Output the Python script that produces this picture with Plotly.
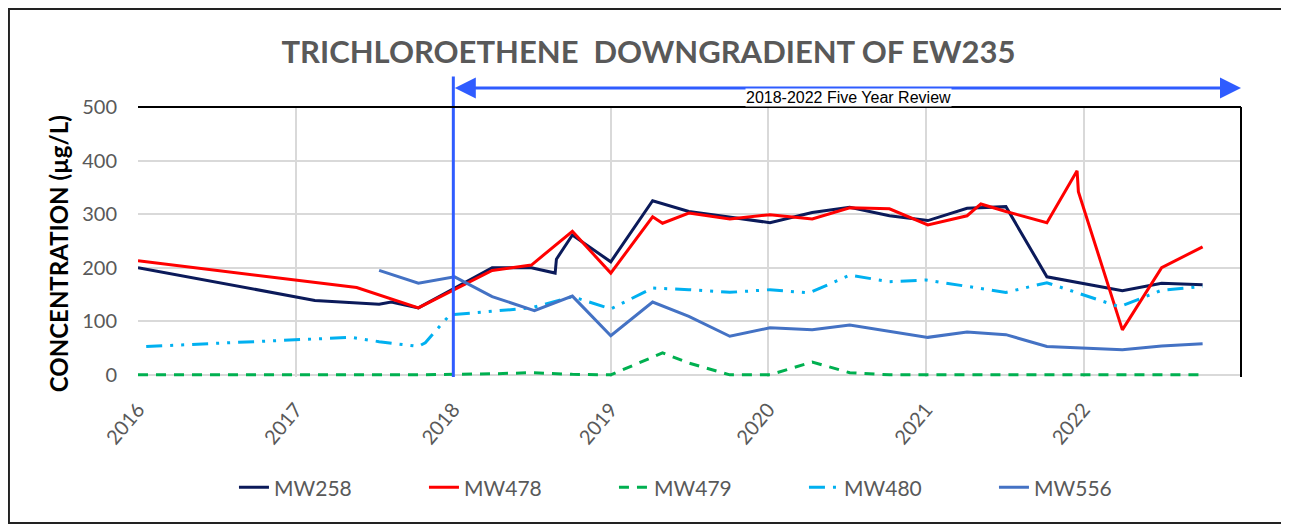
import plotly.graph_objects as go

# --- data ---
mw258_dates = ["2016-01-01", "2017-02-14", "2017-07-13", "2017-08-10", "2017-10-12",
               "2018-04-01", "2018-07-01", "2018-08-25", "2018-08-28", "2018-10-04",
               "2019-01-01", "2019-04-08", "2019-07-01", "2019-10-04", "2020-01-05",
               "2020-04-12", "2020-07-08", "2020-10-08", "2021-01-05", "2021-04-06",
               "2021-07-05", "2021-10-08", "2022-04-01", "2022-07-01", "2022-10-04"]
mw258 = [200, 139, 132, 136, 125,
         200, 200, 190, 216, 261,
         211, 325, 305, 295, 284,
         303, 313, 297, 288, 311,
         314, 183, 157, 171, 168]

mw478_dates = ["2016-01-01", "2017-05-22", "2017-10-12", "2018-04-01", "2018-07-01",
               "2018-10-04", "2019-01-01", "2019-04-08", "2019-05-01", "2019-07-01",
               "2019-10-04", "2020-01-05", "2020-04-12", "2020-07-08", "2020-10-08",
               "2021-01-05", "2021-04-06", "2021-05-08", "2021-07-05", "2021-10-08",
               "2021-12-17", "2021-12-20", "2022-04-01", "2022-07-01", "2022-10-04"]
mw478 = [213, 163, 125, 195, 205,
         268, 190, 295, 283, 302,
         291, 299, 291, 312, 310,
         280, 297, 319, 305, 284,
         381, 342, 84, 200, 239]

mw479_dates = ["2016-01-01", "2016-07-01", "2017-02-14", "2017-05-22", "2017-10-12",
               "2018-04-01", "2018-07-01", "2018-10-04", "2019-01-01", "2019-05-01",
               "2019-07-01", "2019-10-04", "2020-01-05", "2020-04-12", "2020-07-08",
               "2020-10-08", "2021-01-05", "2021-04-06", "2021-07-05", "2021-10-08",
               "2022-04-01", "2022-07-01", "2022-10-04"]
mw479 = [0, 0, 0, 0, 0,
         2, 4, 1, 0, 41,
         22, 0, 0, 24, 4,
         0, 0, 0, 0, 0,
         0, 0, 0]

mw480_dates = ["2016-01-20", "2017-05-08", "2017-07-13", "2017-10-12", "2017-10-28",
               "2017-12-24", "2018-07-01", "2018-10-04", "2019-01-01", "2019-04-08",
               "2019-07-01", "2019-10-04", "2020-01-05", "2020-04-05", "2020-07-08",
               "2020-10-08", "2021-01-01", "2021-07-05", "2021-10-08", "2022-03-25",
               "2022-07-01", "2022-10-04"]
mw480 = [53, 70, 62, 53, 60,
         112, 125, 146, 123, 162,
         159, 154, 159, 153, 186,
         174, 177, 154, 172, 127,
         158, 165]

mw556_dates = ["2017-07-13", "2017-10-12", "2018-01-04", "2018-04-01", "2018-07-08",
               "2018-10-04", "2019-01-01", "2019-04-08", "2019-07-01", "2019-10-04",
               "2020-01-05", "2020-04-12", "2020-07-08", "2020-10-08", "2021-01-05",
               "2021-04-06", "2021-07-05", "2021-10-08", "2022-04-01", "2022-07-01",
               "2022-10-04"]
mw556 = [195, 171, 183, 146, 120,
         147, 73, 136, 109, 72,
         88, 84, 93, 81, 70,
         80, 75, 53, 47, 54,
         58]

years = ["2016", "2017", "2018", "2019", "2020", "2021", "2022"]
year_ticks = [y + "-01-01" for y in years]
review_start = "2018-01-01"
review_end = "2023-01-01"
review_label = "2018-2022 Five Year Review"

fig = go.Figure()
fig.add_trace(go.Scatter(x=mw258_dates, y=mw258, name="MW258", mode="lines",
                         line=dict(color="#0B1A5A", width=3)))
fig.add_trace(go.Scatter(x=mw478_dates, y=mw478, name="MW478", mode="lines",
                         line=dict(color="#FF0000", width=3)))
fig.add_trace(go.Scatter(x=mw479_dates, y=mw479, name="MW479", mode="lines",
                         line=dict(color="#00B050", width=3, dash="10px,8px")))
fig.add_trace(go.Scatter(x=mw480_dates, y=mw480, name="MW480", mode="lines",
                         line=dict(color="#00B0F0", width=3,
                                   dash="16px,8px,3px,8px,3px,8px")))
fig.add_trace(go.Scatter(x=mw556_dates, y=mw556, name="MW556", mode="lines",
                         line=dict(color="#4472C4", width=3)))

# review period marker: vertical line + double arrow with label
fig.add_shape(type="line", xref="x", yref="paper", x0=review_start, x1=review_start,
              y0=0, y1=1.113, line=dict(color="#2F5CFF", width=3))
fig.add_annotation(xref="x", yref="paper", x=review_end, y=1.07,
                   ax=review_start, ay=0, axref="x", ayref="pixel",
                   text="", showarrow=True,
                   arrowhead=2, arrowside="end+start", arrowsize=1.4,
                   arrowwidth=3, arrowcolor="#2F5CFF")
fig.add_annotation(xref="paper", yref="paper", x=0.6446, y=1.07, text=review_label,
                   showarrow=False, bgcolor="white",
                   font=dict(family="Liberation Sans Narrow, Liberation Sans", size=16,
                             color="black"),
                   borderpad=0)

# y-axis title placed as an annotation (sits a little below the axis centre)
fig.add_annotation(xref="paper", yref="paper", x=-0.0725, y=0.455,
                   xanchor="center", yanchor="middle",
                   text="<b>CONCENTRATION (µg/L)</b>", textangle=-90, showarrow=False,
                   font=dict(family="Lato", size=24, color="black"))

# plot-area top/right border
fig.add_shape(type="line", xref="paper", yref="paper", x0=0, x1=1, y0=1, y1=1,
              line=dict(color="black", width=2))
fig.add_shape(type="line", xref="paper", yref="paper", x0=1, x1=1, y0=0, y1=1,
              line=dict(color="black", width=2))
# outer chart border
fig.add_shape(type="rect", xref="paper", yref="paper",
              x0=-0.1170, x1=1.0417, y0=-0.5407, y1=1.3630,
              line=dict(color="#222222", width=2))

fig.update_layout(
    width=1281, height=516,
    margin=dict(l=130, r=48, t=99, b=147),
    paper_bgcolor="white", plot_bgcolor="white",
    title=dict(text="<b>TRICHLOROETHENE  DOWNGRADIENT OF EW235</b>",
               x=0.5, xanchor="center", y=0.915, yanchor="middle",
               font=dict(family="Lato", size=31, color="#595959")),
    font=dict(family="Lato", color="#595959"),
    showlegend=True,
    legend=dict(orientation="h", x=0.087, xanchor="left", y=-0.41, yanchor="middle",
                font=dict(size=21, color="#595959"), bgcolor="rgba(0,0,0,0)",
                entrywidth=145, entrywidthmode="pixels",
                traceorder="normal"),
    xaxis=dict(type="date", range=["2016-01-01", "2023-01-01"],
               tickvals=year_ticks, ticktext=years, tickangle=-50,
               tickfont=dict(size=20, color="#595959"), ticklabelstandoff=16,
               showgrid=True, gridcolor="#D9D9D9", gridwidth=2,
               showline=False, zeroline=False),
    yaxis=dict(range=[-4, 500], tickvals=[0, 100, 200, 300, 400, 500],
               tickfont=dict(size=20, color="#595959"),
               showgrid=True, gridcolor="#D9D9D9", gridwidth=2,
               zeroline=False, ticks="", ticklabelstandoff=20),
)

fig.write_html("out.html")
